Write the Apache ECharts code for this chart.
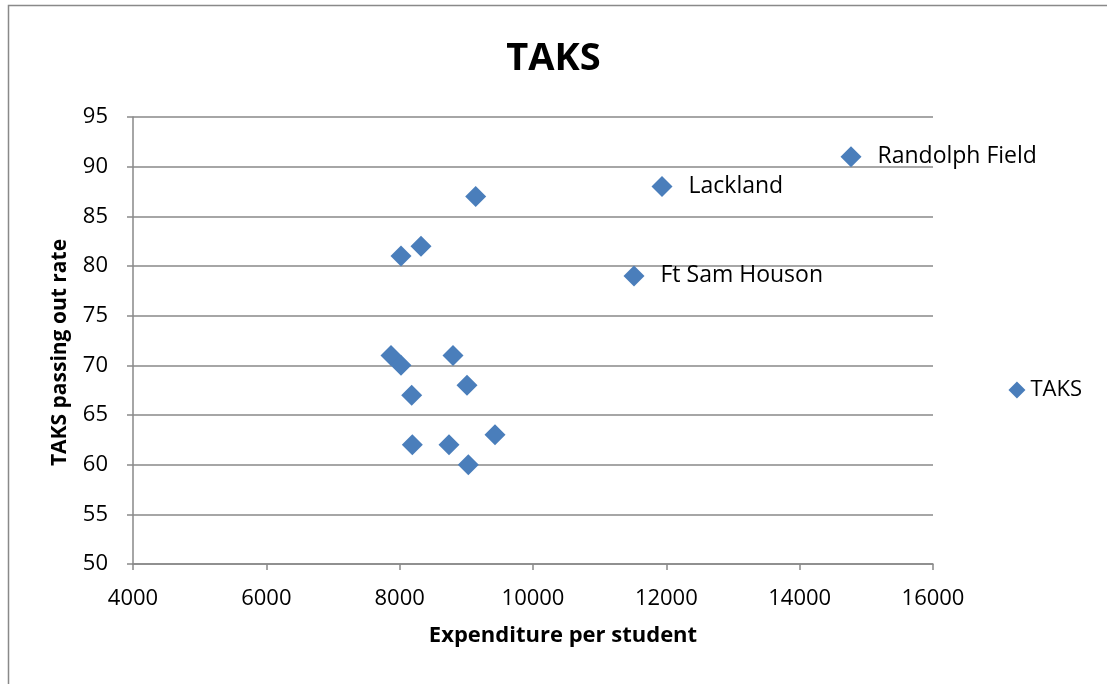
<!DOCTYPE html>
<html>
<head>
<meta charset="utf-8">
<script src="https://cdn.jsdelivr.net/npm/echarts@6/dist/echarts.min.js"></script>
<style>
  html, body { margin: 0; padding: 0; background: #fff; }
  #chart { width: 1107px; height: 684px; }
</style>
</head>
<body>
<div id="chart"></div>
<script>
// Expenditure per student (x) and TAKS passing rate (y) per district
const expenditure = [14770, 11935, 11515, 9140, 8320, 8020, 7870, 8020, 8800, 9010, 8180, 8190, 8740, 9430, 9030];
const passingRate = [91, 88, 79, 87, 82, 81, 71, 70, 71, 68, 67, 62, 62, 63, 60];
const districtNames = ['Randolph Field', 'Lackland', 'Ft Sam Houson', '', '', '', '', '', '', '', '', '', '', '', ''];

const xTicks = { min: 4000, max: 16000, interval: 2000 };
const yTicks = { min: 50, max: 95, interval: 5 };

const FONT = '"Open Sans", "Noto Sans", sans-serif';
const BLUE = '#4A7EBB';
const GRAY = '#898989';

const points = expenditure.map((x, i) => ({
  name: districtNames[i],
  value: [x, passingRate[i]]
}));

const chart = echarts.init(document.getElementById('chart'), null, { renderer: 'canvas' });
chart.setOption({
  backgroundColor: '#fff',
  animation: false,
  title: {
    text: 'TAKS',
    left: 'center',
    top: 35,
    padding: [5, 0, 5, 25],
    textStyle: { fontFamily: FONT, fontSize: 38, fontWeight: 'bold', color: '#000' }
  },
  legend: {
    right: 20,
    top: 374,
    orient: 'vertical',
    icon: 'diamond',
    itemWidth: 17,
    itemHeight: 17,
    itemGap: 6,
    textStyle: { fontFamily: FONT, fontSize: 22, color: '#000' },
    data: ['TAKS']
  },
  grid: { left: 133, right: 174, top: 117, bottom: 120, containLabel: false },
  xAxis: {
    type: 'value',
    min: xTicks.min, max: xTicks.max, interval: xTicks.interval,
    name: 'Expenditure per student',
    nameLocation: 'middle',
    nameGap: 61,
    nameTextStyle: { fontFamily: FONT, fontSize: 22, fontWeight: 'bold', color: '#000', padding: [0, 0, 0, 60] },
    axisLine: { show: true, lineStyle: { color: GRAY, width: 1.5 } },
    axisTick: { show: true, length: 6, inside: false, lineStyle: { color: GRAY, width: 1.5 } },
    axisLabel: { fontFamily: FONT, fontSize: 22, color: '#000', margin: 24, formatter: v => String(v) },
    splitLine: { show: false }
  },
  yAxis: {
    type: 'value',
    min: yTicks.min, max: yTicks.max, interval: yTicks.interval,
    name: 'TAKS passing out rate',
    nameLocation: 'middle',
    nameGap: 62,
    nameRotate: 90,
    nameTextStyle: { fontFamily: FONT, fontSize: 21, fontWeight: 'bold', color: '#000', padding: [0, 24, 0, 0] },
    axisLine: { show: true, onZero: false, lineStyle: { color: GRAY, width: 1.5 } },
    axisTick: { show: true, length: 6, inside: false, lineStyle: { color: GRAY, width: 1.5 } },
    axisLabel: { fontFamily: FONT, fontSize: 22, color: '#000', margin: 25 },
    splitLine: { show: true, lineStyle: { color: GRAY, width: 1.5 } }
  },
  series: [{
    name: 'TAKS',
    type: 'scatter',
    symbol: 'diamond',
    symbolSize: 21,
    itemStyle: { color: BLUE, opacity: 1 },
    label: {
      show: true,
      position: 'right',
      distance: 16,
      formatter: p => p.name,
      fontFamily: FONT,
      fontSize: 23,
      color: '#000'
    },
    data: points
  }],
  graphic: [{
    type: 'rect',
    shape: { x: 8.5, y: 5.5, width: 1200, height: 1000 },
    style: { fill: 'none', stroke: GRAY, lineWidth: 1.5 },
    silent: true,
    z: -1
  }]
});
</script>
</body>
</html>
